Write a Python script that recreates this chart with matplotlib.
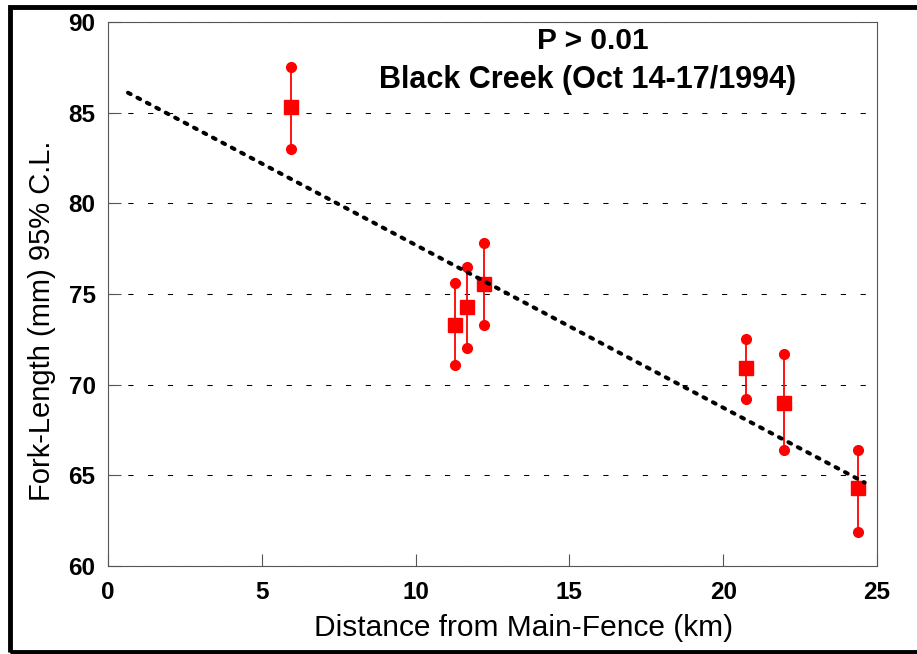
import matplotlib
matplotlib.use("Agg")
import matplotlib.pyplot as plt
import matplotlib.patches as patches

# distance from main fence (km), mean fork length and 95% C.L.
distance = [5.95, 11.28, 11.67, 12.23, 20.75, 21.98, 24.39]
fl_mean = [85.3, 73.3, 74.3, 75.55, 70.9, 69.0, 64.3]
fl_upper = [87.5, 75.6, 76.5, 77.8, 72.5, 71.7, 66.4]
fl_lower = [83.0, 71.1, 72.0, 73.3, 69.2, 66.4, 61.9]

# regression line ends
fit_x = [0.65, 24.6]
fit_y = [86.1, 64.6]

x_ticks = [0, 5, 10, 15, 20, 25]
y_ticks = [60, 65, 70, 75, 80, 85, 90]

plt.rcParams["font.family"] = ["Liberation Sans", "DejaVu Sans"]

fig = plt.figure(figsize=(9.17, 6.54), dpi=100)
ax = fig.add_axes([108 / 917, 1 - 566 / 654, (877 - 108) / 917, (566 - 22) / 654])

red = "#ff0000"
for x, lo, hi in zip(distance, fl_lower, fl_upper):
    ax.plot([x, x], [lo, hi], color=red, lw=1.3, zorder=3)
ax.plot(distance, fl_upper, "o", color=red, ms=7, mec=red, zorder=4, ls="none")
ax.plot(distance, fl_lower, "o", color=red, ms=7, mec=red, zorder=4, ls="none")
ax.plot(distance, fl_mean, "s", color=red, ms=10.5, mec=red, zorder=5, ls="none")

ax.plot(fit_x, fit_y, color="black", lw=2.9, linestyle=(0, (0.75, 1.9)),
        dash_capstyle="round", zorder=6)

ax.set_xlim(0, 25)
ax.set_ylim(60, 90)
ax.set_xticks(x_ticks)
ax.set_yticks(y_ticks)
ax.set_xticklabels([str(t) for t in x_ticks], fontweight="bold", fontsize=17.5)
ax.set_yticklabels([str(t) for t in y_ticks], fontweight="bold", fontsize=17.5)
ax.tick_params(axis="both", direction="in", length=9, width=0.8, color="#555555")
ax.tick_params(axis="x", pad=11)
ax.tick_params(axis="y", pad=9)

ax.grid(axis="y", color="black", lw=0.75, linestyle=(0, (5, 14)))
for s in ax.spines.values():
    s.set_linewidth(0.8)
    s.set_color("#555555")

ax.set_xlabel("Distance from Main-Fence (km)", fontsize=21.5, labelpad=5)
ax.xaxis.set_label_coords(0.54, -0.088)
ax.set_ylabel("Fork-Length (mm) 95% C.L.", fontsize=21, labelpad=10)
ax.yaxis.set_label_coords(-0.068, 0.45)

ax.text(0.631, 0.965, "P > 0.01", transform=ax.transAxes, ha="center",
        va="center", fontsize=21.5, fontweight="bold")
ax.text(0.624, 0.893, "Black Creek (Oct 14-17/1994)", transform=ax.transAxes,
        ha="center", va="center", fontsize=22, fontweight="bold")

# outer frame
fig.patches.append(patches.Rectangle((10 / 917, 2 / 654), 1.0, 645 / 654,
                                     transform=fig.transFigure, fill=False,
                                     edgecolor="black", lw=3.5))

fig.savefig("out.png", dpi=100)
